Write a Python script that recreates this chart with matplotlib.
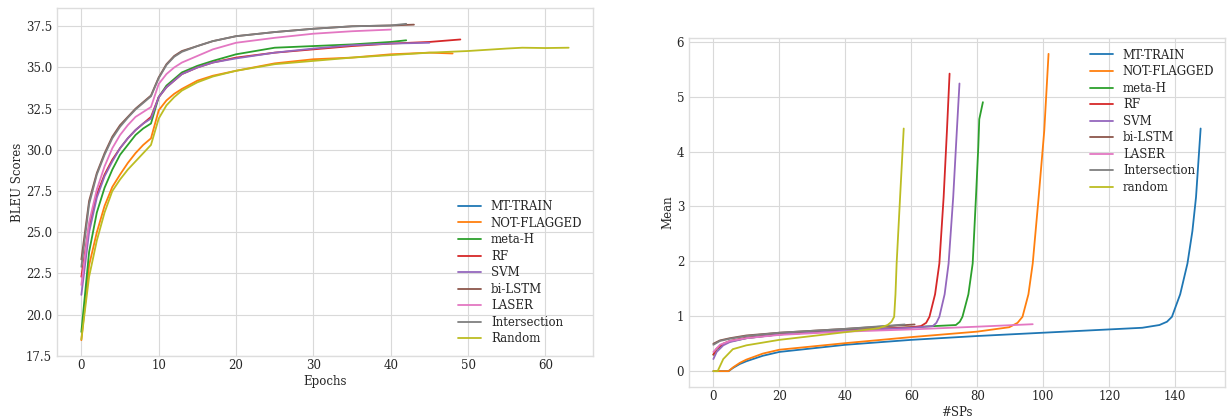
import numpy as np
import matplotlib
matplotlib.use("Agg")
import matplotlib.pyplot as plt

# ---- left panel: BLEU score per epoch ----
labels_left = ["MT-TRAIN", "NOT-FLAGGED", "meta-H", "RF", "SVM",
               "bi-LSTM", "LASER", "Intersection", "Random"]

ep = [0, 1, 2, 3, 4, 5, 6, 7, 8, 9, 10, 11, 12, 13, 15, 17, 20, 25, 30, 35, 40]

bleu_mt_train_x = []
bleu_mt_train = []
bleu_not_flagged_x = ep + [45, 48]
bleu_not_flagged = [18.45, 23.0, 25.0, 26.6, 27.75, 28.5, 29.2, 29.8, 30.3, 30.7, 32.4,
                    33.0, 33.4, 33.7, 34.2, 34.5, 34.8, 35.25, 35.5, 35.6, 35.8, 35.9, 35.85]
bleu_meta_h_x = ep + [42]
bleu_meta_h = [18.95, 23.8, 26.2, 27.7, 28.8, 29.7, 30.3, 30.9, 31.3, 31.6, 33.2,
               33.9, 34.3, 34.7, 35.1, 35.4, 35.8, 36.2, 36.3, 36.4, 36.55, 36.65]
bleu_rf_x = ep + [45, 49]
bleu_rf = [22.3, 25.4, 27.3, 28.5, 29.4, 30.1, 30.7, 31.2, 31.6, 32.0, 33.2,
           33.8, 34.2, 34.6, 35.0, 35.3, 35.6, 35.9, 36.1, 36.3, 36.45, 36.55, 36.7]
bleu_svm_x = ep + [45]
bleu_svm = [21.2, 25.0, 27.1, 28.4, 29.3, 30.1, 30.7, 31.2, 31.6, 31.9, 33.2,
            33.8, 34.2, 34.6, 35.0, 35.3, 35.55, 35.9, 36.15, 36.35, 36.45, 36.5]
bleu_bilstm_x = ep + [43]
bleu_bilstm = [23.35, 26.9, 28.6, 29.8, 30.8, 31.5, 32.0, 32.5, 32.9, 33.3, 34.4,
               35.2, 35.7, 36.0, 36.3, 36.6, 36.9, 37.15, 37.35, 37.5, 37.55, 37.6]
bleu_laser_x = ep
bleu_laser = [21.8, 25.6, 27.6, 29.0, 30.1, 30.9, 31.5, 32.0, 32.3, 32.6, 34.0,
              34.6, 35.0, 35.3, 35.7, 36.1, 36.5, 36.8, 37.05, 37.2, 37.3]
bleu_inter_x = ep + [42]
bleu_inter = [22.9, 26.7, 28.5, 29.7, 30.7, 31.4, 31.95, 32.45, 32.85, 33.25, 34.35,
              35.15, 35.65, 35.95, 36.3, 36.6, 36.9, 37.15, 37.35, 37.5, 37.55, 37.65]
bleu_random_x = ep + [45, 50, 55, 57, 60, 63]
bleu_random = [18.5, 22.3, 24.5, 26.2, 27.5, 28.2, 28.8, 29.3, 29.8, 30.3, 31.9,
               32.7, 33.2, 33.6, 34.1, 34.45, 34.8, 35.2, 35.4, 35.6, 35.75,
               35.9, 36.0, 36.15, 36.2, 36.18, 36.2]

# ---- right panel: mean vs number of SPs ----
labels_right = ["MT-TRAIN", "NOT-FLAGGED", "meta-H", "RF", "SVM",
                "bi-LSTM", "LASER", "Intersection", "random"]

sp_mt_train = [0, 4.6, 6, 8, 10, 15, 20, 40, 60, 80, 100, 120, 130, 135.2, 137.5,
               139.0, 141.5, 143.7, 145.2, 146.3, 147.7]
mean_mt_train = [0, 0, 0.06, 0.13, 0.18, 0.28, 0.35, 0.48, 0.57, 0.64, 0.70, 0.76, 0.79,
                 0.84, 0.90, 0.99, 1.40, 1.96, 2.55, 3.17, 4.42]
sp_not_flagged = [0, 4.6, 6, 8, 10, 15, 20, 40, 60, 80, 89.7, 92.2, 93.7, 95.5,
                  96.8, 98.6, 100.3, 101.6]
mean_not_flagged = [0, 0, 0.07, 0.15, 0.21, 0.32, 0.39, 0.51, 0.62, 0.72, 0.80, 0.88,
                    0.99, 1.40, 1.96, 3.17, 4.38, 5.78]
sp_meta_h = [0, 1, 3, 5, 10, 20, 40, 60, 73.5, 74.7, 75.5, 77.3, 78.6, 79.6, 80.3,
             80.6, 81.7]
mean_meta_h = [0.30, 0.40, 0.49, 0.54, 0.60, 0.67, 0.74, 0.80, 0.84, 0.90, 0.99, 1.40,
               1.96, 3.17, 4.08, 4.59, 4.90]
sp_rf = [0, 1, 3, 5, 10, 20, 40, 60, 62.9, 64.5, 65.5, 67.2, 68.5, 69.8, 70.8, 71.6]
mean_rf = [0.30, 0.41, 0.50, 0.55, 0.61, 0.67, 0.74, 0.80, 0.82, 0.88, 0.99, 1.40, 1.96,
           3.17, 4.38, 5.42]
sp_svm = [0, 1, 3, 5, 10, 20, 40, 60, 66.5, 67.6, 68.5, 70.1, 71.3, 72.7, 73.8, 74.6]
mean_svm = [0.22, 0.35, 0.47, 0.53, 0.60, 0.67, 0.74, 0.79, 0.82, 0.88, 0.99, 1.40, 1.96,
            3.17, 4.38, 5.24]
sp_bilstm = [0, 2, 5, 10, 20, 40, 61]
mean_bilstm = [0.50, 0.56, 0.60, 0.65, 0.70, 0.77, 0.85]
sp_laser = [0, 2, 5, 10, 20, 40, 60, 80, 96.8]
mean_laser = [0.35, 0.48, 0.55, 0.60, 0.66, 0.72, 0.76, 0.81, 0.855]
sp_inter = [0, 2, 5, 10, 20, 40, 58]
mean_inter = [0.48, 0.55, 0.59, 0.64, 0.70, 0.77, 0.85]
sp_random = [0, 1.3, 3, 5.9, 10, 20, 40, 50, 52.8, 54.0, 54.8, 55.2, 55.55, 56.6, 57.7]
mean_random = [0, 0, 0.22, 0.40, 0.47, 0.57, 0.71, 0.78, 0.84, 0.90, 0.99, 1.40, 1.96,
               3.17, 4.42]

plt.style.use("seaborn-v0_8-whitegrid")
plt.rcParams["font.family"] = "serif"
plt.rcParams["font.size"] = 8.5
plt.rcParams["xtick.major.pad"] = 2.5
plt.rcParams["axes.labelpad"] = 1.5
plt.rcParams["axes.edgecolor"] = "#dddddd"
plt.rcParams["grid.color"] = "#d9d9d9"

colors = plt.rcParams["axes.prop_cycle"].by_key()["color"]

fig = plt.figure(figsize=(12.27, 4.17), dpi=100)
ax1 = fig.add_axes([57 / 1227, 1 - 356 / 417, 536 / 1227, 348 / 417])
ax2 = fig.add_axes([689 / 1227, 1 - 387 / 417, 536 / 1227, 349 / 417])

left_series = [
    (bleu_mt_train_x, bleu_mt_train),
    (bleu_not_flagged_x, bleu_not_flagged),
    (bleu_meta_h_x, bleu_meta_h),
    (bleu_rf_x, bleu_rf),
    (bleu_svm_x, bleu_svm),
    (bleu_bilstm_x, bleu_bilstm),
    (bleu_laser_x, bleu_laser),
    (bleu_inter_x, bleu_inter),
    (bleu_random_x, bleu_random),
]
for (x, y), lab, c in zip(left_series, labels_left, colors):
    ax1.plot(x, y, color=c, lw=1.3, label=lab)
ax1.set_xlabel("Epochs")
ax1.set_ylabel("BLEU Scores")
ax1.set_xticks([0, 10, 20, 30, 40, 50, 60])
ax1.legend(loc="lower right", frameon=False, labelspacing=0.3)

right_series = [
    (sp_mt_train, mean_mt_train),
    (sp_not_flagged, mean_not_flagged),
    (sp_meta_h, mean_meta_h),
    (sp_rf, mean_rf),
    (sp_svm, mean_svm),
    (sp_bilstm, mean_bilstm),
    (sp_laser, mean_laser),
    (sp_inter, mean_inter),
    (sp_random, mean_random),
]
for (x, y), lab, c in zip(right_series, labels_right, colors):
    ax2.plot(x, y, color=c, lw=1.3, label=lab)
ax2.set_xlabel("#SPs")
ax2.set_ylabel("Mean")
ax2.legend(loc="upper right", frameon=False, labelspacing=0.3)

fig.savefig("out.png", dpi=100)
